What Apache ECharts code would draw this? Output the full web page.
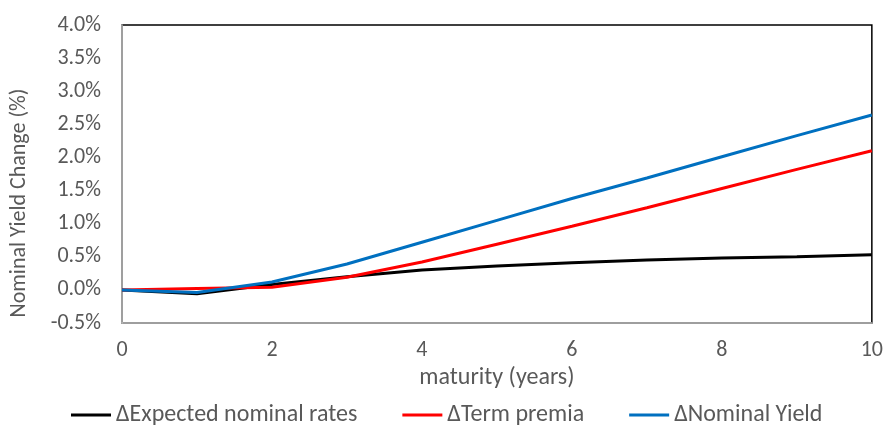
<!DOCTYPE html>
<html>
<head>
<meta charset="utf-8">
<script src="https://cdn.jsdelivr.net/npm/echarts@6/dist/echarts.min.js"></script>
<style>
  html, body { margin: 0; padding: 0; background: #fff; }
  #chart { width: 886px; height: 427px; }
</style>
</head>
<body>
<div id="chart"></div>
<script>
// Maturity in years
const maturities = [0, 1, 2, 3, 4, 5, 6, 7, 8, 9, 10];
// Yield changes in percentage points
const expectedRates = [0, -0.06, 0.08, 0.20, 0.30, 0.36, 0.41, 0.45, 0.48, 0.50, 0.53];
const termPremia    = [0, 0.02, 0.04, 0.19, 0.42, 0.69, 0.96, 1.24, 1.53, 1.82, 2.10];
const nominalYield  = [0, -0.04, 0.12, 0.39, 0.72, 1.05, 1.38, 1.69, 2.01, 2.33, 2.64];
const seriesNames = ['ΔExpected nominal rates', 'ΔTerm premia', 'ΔNominal Yield'];

const FONT = 'Carlito, "Liberation Sans", sans-serif';
const TEXT = '#595959';

const pairs = vals => maturities.map((m, i) => [m, vals[i]]);
const lineSeries = (name, vals, color) => ({
  name, type: 'line', xAxisIndex: 0, data: pairs(vals),
  showSymbol: false, symbol: 'none', z: 3,
  lineStyle: { color, width: 3 }, itemStyle: { color }
});

const chart = echarts.init(document.getElementById('chart'), null, { renderer: 'canvas' });
chart.setOption({
  animation: false,
  textStyle: { fontFamily: FONT },
  grid: {
    left: 121, right: 13, top: 25, bottom: 104,
    show: true, borderColor: '#000', borderWidth: 1.5, backgroundColor: 'transparent'
  },
  xAxis: [{
    type: 'value', min: 0, max: 10, interval: 2,
    name: 'maturity (years)', nameLocation: 'middle', nameGap: 43,
    nameTextStyle: { color: TEXT, fontSize: 24, fontFamily: FONT },
    axisLine: { show: false }, axisTick: { show: false }, splitLine: { show: false },
    axisLabel: { color: TEXT, fontSize: 22, fontFamily: FONT, margin: 16 }
  }, {
    // zero reference line across the plot
    type: 'value', min: 0, max: 10, position: 'bottom', z: 1,
    axisLine: { show: true, onZero: true, lineStyle: { color: '#bfbfbf', width: 1.5 } },
    axisTick: { show: false }, axisLabel: { show: false }, splitLine: { show: false }
  }],
  yAxis: {
    type: 'value', min: -0.5, max: 4, interval: 0.5,
    name: 'Nominal Yield Change (%)', nameLocation: 'middle', nameGap: 92,
    nameTextStyle: { color: TEXT, fontSize: 22, fontFamily: FONT, padding: [0, 58, 0, 0] },
    axisLine: { show: true, lineStyle: { color: '#bfbfbf', width: 1.5 } },
    axisTick: { show: false }, splitLine: { show: false },
    axisLabel: {
      color: TEXT, fontSize: 22, fontFamily: FONT, margin: 21,
      formatter: v => v.toFixed(1) + '%'
    }
  },
  legend: {
    left: 66, top: 398, itemWidth: 40, itemHeight: 3, itemGap: 45,
    icon: 'rect',
    textStyle: { color: TEXT, fontSize: 24, fontFamily: FONT },
    data: seriesNames
  },
  series: [
    lineSeries(seriesNames[0], expectedRates, '#000000'),
    lineSeries(seriesNames[1], termPremia, '#ff0000'),
    lineSeries(seriesNames[2], nominalYield, '#0070c0')
  ]
});
</script>
</body>
</html>
